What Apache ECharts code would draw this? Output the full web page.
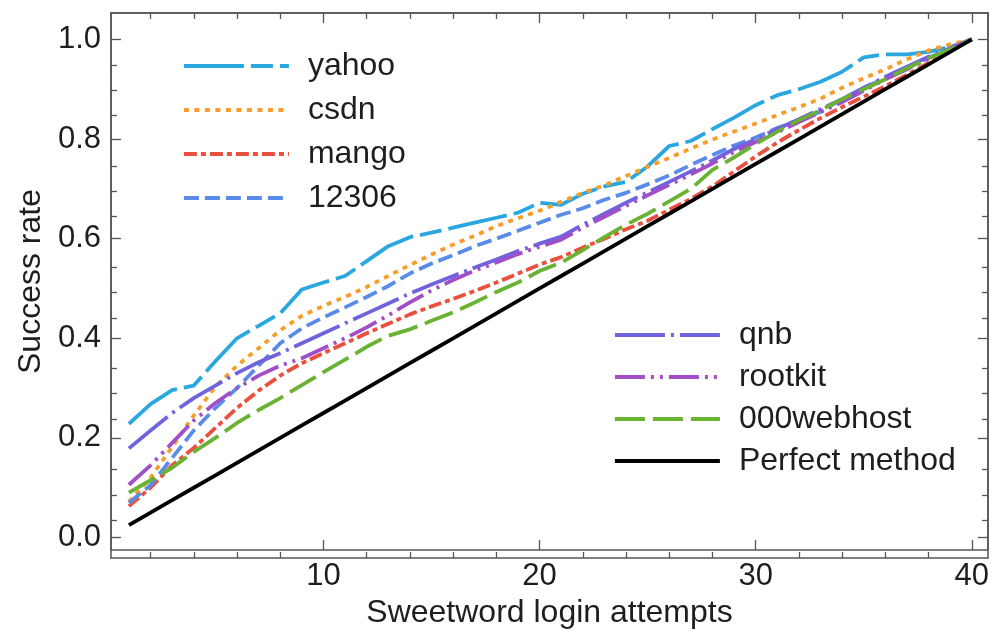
<!DOCTYPE html>
<html>
<head>
<meta charset="utf-8">
<script src="https://cdn.jsdelivr.net/npm/echarts@6/dist/echarts.min.js"></script>
<style>
  html, body { margin: 0; padding: 0; background: #ffffff; }
  #chart { width: 994px; height: 634px; }
</style>
</head>
<body>
<div id="chart"></div>
<script>
// Login attempt index (x) and cumulative success rate per dataset (y)
const attempts = [1, 2, 3, 4, 5, 6, 7, 8, 9, 10, 11, 12, 13, 14, 15, 16, 17, 18, 19, 20,
                  21, 22, 23, 24, 25, 26, 27, 28, 29, 30, 31, 32, 33, 34, 35, 36, 37, 38, 39, 40];

const yahoo = [0.228, 0.268, 0.296, 0.305, 0.354, 0.400, 0.425, 0.450, 0.498, 0.512,
               0.525, 0.555, 0.585, 0.603, 0.612, 0.622, 0.632, 0.642, 0.652, 0.672,
               0.668, 0.690, 0.705, 0.714, 0.745, 0.786, 0.796, 0.820, 0.843, 0.868,
               0.888, 0.900, 0.915, 0.935, 0.964, 0.970, 0.970, 0.975, 0.985, 1.000];

const csdn = [0.072, 0.120, 0.182, 0.245, 0.303, 0.345, 0.380, 0.416, 0.445, 0.465,
              0.483, 0.503, 0.525, 0.547, 0.568, 0.588, 0.606, 0.625, 0.641, 0.656,
              0.674, 0.692, 0.707, 0.726, 0.744, 0.762, 0.781, 0.799, 0.815, 0.831,
              0.848, 0.864, 0.881, 0.903, 0.922, 0.940, 0.960, 0.978, 0.990, 1.000];

const mango = [0.063, 0.100, 0.145, 0.180, 0.220, 0.260, 0.295, 0.325, 0.350, 0.370,
               0.390, 0.410, 0.429, 0.448, 0.464, 0.479, 0.495, 0.512, 0.530, 0.548,
               0.563, 0.582, 0.600, 0.619, 0.636, 0.658, 0.680, 0.705, 0.735, 0.765,
               0.793, 0.818, 0.842, 0.864, 0.885, 0.906, 0.929, 0.953, 0.977, 1.000];

const site12306 = [0.070, 0.105, 0.160, 0.215, 0.260, 0.300, 0.345, 0.390, 0.420, 0.442,
                   0.462, 0.483, 0.505, 0.530, 0.550, 0.567, 0.585, 0.600, 0.616, 0.632,
                   0.648, 0.661, 0.678, 0.692, 0.709, 0.727, 0.748, 0.768, 0.787, 0.803,
                   0.822, 0.838, 0.855, 0.880, 0.902, 0.923, 0.944, 0.963, 0.982, 1.000];

const qnb = [0.179, 0.215, 0.250, 0.280, 0.305, 0.330, 0.352, 0.370, 0.390, 0.410,
             0.430, 0.450, 0.470, 0.490, 0.508, 0.525, 0.542, 0.558, 0.575, 0.590,
             0.604, 0.628, 0.650, 0.672, 0.693, 0.714, 0.735, 0.757, 0.780, 0.800,
             0.820, 0.840, 0.860, 0.880, 0.903, 0.925, 0.945, 0.965, 0.982, 1.000];

const rootkit = [0.106, 0.145, 0.190, 0.235, 0.270, 0.300, 0.325, 0.345, 0.360, 0.380,
                 0.400, 0.422, 0.446, 0.472, 0.496, 0.517, 0.536, 0.552, 0.569, 0.584,
                 0.598, 0.622, 0.644, 0.666, 0.687, 0.708, 0.729, 0.751, 0.774, 0.794,
                 0.814, 0.834, 0.854, 0.874, 0.897, 0.920, 0.940, 0.961, 0.980, 1.000];

const webhost000 = [0.090, 0.115, 0.140, 0.172, 0.200, 0.230, 0.256, 0.280, 0.306, 0.332,
                    0.357, 0.383, 0.405, 0.418, 0.435, 0.452, 0.472, 0.493, 0.512, 0.535,
                    0.552, 0.577, 0.603, 0.628, 0.650, 0.675, 0.700, 0.738, 0.763, 0.790,
                    0.815, 0.838, 0.858, 0.880, 0.900, 0.920, 0.942, 0.962, 0.980, 1.000];

const perfect = [0.025, 0.050, 0.075, 0.100, 0.125, 0.150, 0.175, 0.200, 0.225, 0.250,
                 0.275, 0.300, 0.325, 0.350, 0.375, 0.400, 0.425, 0.450, 0.475, 0.500,
                 0.525, 0.550, 0.575, 0.600, 0.625, 0.650, 0.675, 0.700, 0.725, 0.750,
                 0.775, 0.800, 0.825, 0.850, 0.875, 0.900, 0.925, 0.950, 0.975, 1.000];

// Tick positions
const xMajorTicks = [10, 20, 30, 40];
const xMinorTicks = [2, 4, 6, 8, 12, 14, 16, 18, 22, 24, 26, 28, 32, 34, 36, 38];
const yMajorTicks = [0.0, 0.2, 0.4, 0.6, 0.8, 1.0];
const yMinorTicks = [0.05, 0.1, 0.15, 0.25, 0.3, 0.35, 0.45, 0.5, 0.55,
                     0.65, 0.7, 0.75, 0.85, 0.9, 0.95];

const FONT = '"Liberation Sans", Arial, Helvetica, sans-serif';
const TEXT = '#1e1e1e';
const FRAME = '#555555';
const LINE_WIDTH = 3.8;

const X_MIN = 0.17, X_MAX = 40.75;
const Y_MIN = -0.025, Y_MAX = 1.053;
const plotRect = { left: 111, right: 6, top: 13, bottom: 76 };

function xAxisDef(gridIndex, position, ticks, len, withLabels) {
  return {
    type: 'value', gridIndex, position, min: X_MIN, max: X_MAX,
    axisLine: { show: true, onZero: false, lineStyle: { color: FRAME, width: 1.5 } },
    axisTick: { show: true, inside: true, length: len, customValues: ticks,
                lineStyle: { color: FRAME, width: 1.3 } },
    axisLabel: { show: withLabels, customValues: ticks, margin: 11,
                 fontFamily: FONT, fontSize: 31, color: TEXT },
    splitLine: { show: false },
    name: withLabels ? 'Sweetword login attempts' : '',
    nameLocation: 'middle', nameGap: 47,
    nameTextStyle: { fontFamily: FONT, fontSize: 32, color: TEXT }
  };
}

function yAxisDef(gridIndex, position, ticks, len, withLabels) {
  return {
    type: 'value', gridIndex, position, min: Y_MIN, max: Y_MAX,
    axisLine: { show: true, onZero: false, lineStyle: { color: FRAME, width: 1.5 } },
    axisTick: { show: true, inside: true, length: len, customValues: ticks,
                lineStyle: { color: FRAME, width: 1.3 } },
    axisLabel: { show: withLabels, customValues: ticks, margin: 10,
                 fontFamily: FONT, fontSize: 31, color: TEXT,
                 formatter: v => v.toFixed(1) },
    splitLine: { show: false },
    name: withLabels ? 'Success rate' : '',
    nameLocation: 'middle', nameGap: 51, nameRotate: 90,
    nameTextStyle: { fontFamily: FONT, fontSize: 32, color: TEXT }
  };
}

const seriesSpec = [
  { name: 'yahoo',          values: yahoo,      color: '#2aa7df', dash: [60, 7, 22, 7] },
  { name: 'csdn',           values: csdn,       color: '#f99d2a', dash: [5, 5.5] },
  { name: 'mango',          values: mango,      color: '#e9503e', dash: [13, 4, 5, 4] },
  { name: '12306',          values: site12306,  color: '#5a8be8', dash: [15, 6] },
  { name: 'qnb',            values: qnb,        color: '#6f64dd', dash: [50, 6, 3, 6] },
  { name: 'rootkit',        values: rootkit,    color: '#a04fc8', dash: [30, 6, 3, 6, 3, 6] },
  { name: '000webhost',     values: webhost000, color: '#6ab232', dash: [30, 8] },
  { name: 'Perfect method', values: perfect,    color: '#000000', dash: 'solid' }
];

const series = seriesSpec.map(s => ({
  name: s.name,
  type: 'line',
  xAxisIndex: 0,
  yAxisIndex: 0,
  symbol: 'none',
  smooth: false,
  data: attempts.map((a, i) => [a, s.values[i]]),
  lineStyle: { color: s.color, width: LINE_WIDTH, type: s.dash },
  itemStyle: { color: s.color },
  emphasis: { disabled: true }
}));

// Legend keys show only the line sample (the point marker is hidden)
function legendDef(names, left, top, gap) {
  return {
    data: names,
    orient: 'vertical',
    left, top,
    padding: 0,
    itemWidth: 105,
    itemHeight: 14,
    itemGap: gap,
    selectedMode: false,
    itemStyle: { opacity: 0, borderWidth: 0 },
    lineStyle: { width: LINE_WIDTH },
    textStyle: { fontFamily: FONT, fontSize: 32, color: TEXT, padding: [0, 0, 0, 14] }
  };
}

const chart = echarts.init(document.getElementById('chart'), null, { renderer: 'canvas' });
chart.setOption({
  animation: false,
  backgroundColor: '#ffffff',
  grid: [
    Object.assign({ containLabel: false }, plotRect),
    Object.assign({ containLabel: false }, plotRect)
  ],
  xAxis: [
    xAxisDef(0, 'bottom', xMajorTicks, 10, true),
    xAxisDef(0, 'top', xMajorTicks, 10, false),
    xAxisDef(1, 'bottom', xMinorTicks, 6, false),
    xAxisDef(1, 'top', xMinorTicks, 6, false)
  ],
  yAxis: [
    yAxisDef(0, 'left', yMajorTicks, 10, true),
    yAxisDef(0, 'right', yMajorTicks, 10, false),
    yAxisDef(1, 'left', yMinorTicks, 6, false),
    yAxisDef(1, 'right', yMinorTicks, 6, false)
  ],
  legend: [
    legendDef(['yahoo', 'csdn', 'mango', '12306'], 182, 50, 12),
    legendDef(['qnb', 'rootkit', '000webhost', 'Perfect method'], 613, 319, 10)
  ],
  series
});
</script>
</body>
</html>
